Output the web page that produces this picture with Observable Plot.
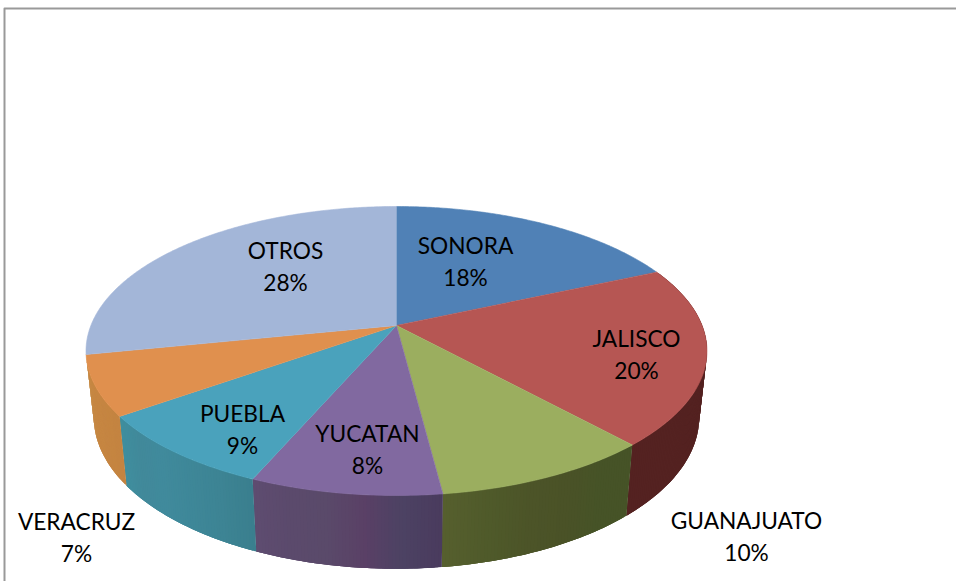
<!DOCTYPE html>
<html>
<head>
<meta charset="utf-8">
<script src="https://cdn.jsdelivr.net/npm/d3@7"></script>
<script src="https://cdn.jsdelivr.net/npm/@observablehq/plot@0.6"></script>
<style>html,body{margin:0;padding:0;background:#fff}svg{display:block}</style>
</head>
<body>
<div id="chart"></div>
<script>
// Data
const states = ["SONORA", "JALISCO", "GUANAJUATO", "YUCATAN", "PUEBLA", "VERACRUZ", "OTROS"];
const shares = [18.3, 20.0, 9.7, 8.45, 8.65, 6.7, 28.2];

// Styles
const topColors = ["#5081b6", "#b65653", "#9bae5f", "#8169a0", "#4aa2bc", "#e0904e", "#a3b6d8"];
// Side-wall shades, in clockwise order (right to left along the front); back slices have none
const wallColors = [
  [],
  ["#542221", "#542221"],
  ["#465327", "#465327", "#4a5227", "#4c5428", "#4f5a2a", "#565f2e"],
  ["#4a3b5e", "#4c4263", "#5a4066", "#5a4a6a", "#5b4a6c", "#5e4c70"],
  ["#3a7f8e", "#3d8494", "#3e8798", "#408a9c", "#41899a", "#3f8e9e"],
  ["#c48441", "#c68642", "#c68a45"],
  []
];
// Label anchors in the chart's own units
const labelX = [0.2258, 0.7853, 1.1453, -0.0949, -0.5039, -1.0471, -0.3632];
const labelY = [0.45, -0.2143, -1.5143, -0.8929, -0.75, -1.5179, 0.4143];

// Perspective of the tilted disc: a unit circle seen from above
const tilt = 0.1765;
const baseScaleX = 0.975, baseScaleY = 1.05, baseShiftY = -0.4625;
const rim = (a) => {
  const u = Math.sin(a), v = Math.cos(a), d = 1 + tilt * v;
  return {X: u / d, Y: v / d};
};
const base = (p) => ({X: p.X * baseScaleX, Y: p.Y * baseScaleY + baseShiftY});

const arcs = d3.pie().sort(null).value((d) => d)(shares);
const steps = (a0, a1) => {
  const n = Math.max(2, Math.ceil((a1 - a0) / 0.01));
  return d3.range(n + 1).map((i) => a0 + (a1 - a0) * i / n);
};

const faces = arcs.flatMap((arc, i) => [
  {X: 0, Y: 0, id: i, color: topColors[i]},
  ...steps(arc.startAngle, arc.endAngle).map((a) => ({...rim(a), id: i, color: topColors[i]}))
]);

// Each wall is a run of thin overlapping quads, so it fills out to the disc's silhouette
// and no seam lets the white page through
const walls = arcs.flatMap((arc, i) => {
  if (!wallColors[i].length) return [];
  const ramp = d3.piecewise(d3.interpolateRgb, wallColors[i]);
  const a = steps(arc.startAngle, arc.endAngle);
  return a.slice(1).flatMap((t1, j) => {
    const t0 = a[j], t2 = a[Math.min(j + 3, a.length - 1)];
    const id = `${i}-${j}`, color = d3.rgb(ramp(j / (a.length - 2))).formatHex();
    return [rim(t0), rim(t1), rim(t2), base(rim(t2)), base(rim(t1)), base(rim(t0))]
      .map((p) => ({...p, id, color}));
  });
});

const labels = states.map((s, i) => ({
  X: labelX[i], Y: labelY[i], text: `${s}\n${Math.round(shares[i])}%`
}));

const chart = Plot.plot({
  width: 956, height: 581, margin: 0,
  style: {background: "#fff"},
  x: {axis: null, domain: [-1.2958, 1.8325], range: [0, 956]},
  y: {axis: null, domain: [2.3214, -1.8286], range: [0, 581]},
  marks: [
    Plot.line([{X: -1.2827, Y: -1.8286}, {X: -1.2827, Y: 2.2643}, {X: 1.8325, Y: 2.2643}],
      {x: "X", y: "Y", stroke: "#999", strokeWidth: 2}),
    Plot.line(walls, {x: "X", y: "Y", z: "id", fill: "color"}),
    Plot.line(faces, {x: "X", y: "Y", z: "id", fill: "color", stroke: "color", strokeWidth: 0.6}),
    Plot.text(labels, {
      x: "X", y: "Y", text: "text", fontFamily: "Lato", fontSize: 22.7, dy: -2.5,
      lineHeight: 1.4, fill: "#000", textAnchor: "middle", frameAnchor: "middle"
    })
  ]
});
document.getElementById("chart").append(chart);
</script>
</body>
</html>
